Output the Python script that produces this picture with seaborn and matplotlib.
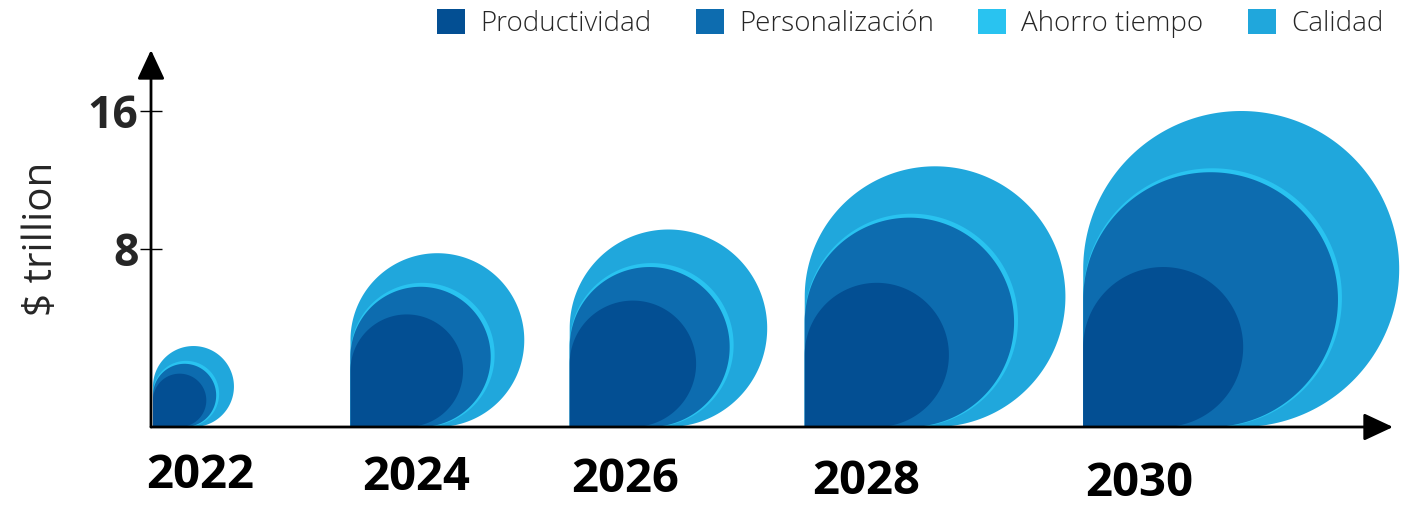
import numpy as np
import matplotlib
matplotlib.use("Agg")
import matplotlib.pyplot as plt
from matplotlib.patches import Polygon, Patch
import seaborn as sns

# values ($ trillion, height of each shape)
years = ["2022", "2024", "2026", "2028", "2030"]
productividad = [2.7, 5.7, 6.4, 7.3, 8.1]
personalizacion = [3.2, 7.1, 8.1, 10.6, 12.9]
ahorro_tiempo = [3.35, 7.3, 8.3, 10.8, 13.1]
calidad = [4.1, 8.8, 10.0, 13.2, 16.0]

series = ["Productividad", "Personalización", "Ahorro tiempo", "Calidad"]
ytick_pos = [9.0, 16.0]
ytick_labels = ["8", "16"]

# layout: left edge of each group and where its year label sits
group_x = [0.1, 10.1, 21.2, 33.1, 47.2]
label_x = [-0.25, 10.7, 21.3, 33.5, 47.3]
label_y = [-2.48, -2.58, -2.68, -2.78, -2.88]

sns.set_theme(style="white")
plt.rcParams["font.family"] = ["Open Sans", "DejaVu Sans"]
colors = sns.color_palette(["#034F93", "#0D6CAF", "#29C3F0", "#20A7DC"])

W, H, DPI = 1413, 505, 100
PX = 19.75  # pixels per unit
fig = plt.figure(figsize=(W / DPI, H / DPI), dpi=DPI)
x0_px, base_px, top_px, right_px = 151, 427, 50, 1393
ax = fig.add_axes([x0_px / W, (H - base_px) / H,
                   (right_px - x0_px) / W, (base_px - top_px) / H])
ax.set_xlim(0, (right_px - x0_px) / PX)
ax.set_ylim(0, (base_px - top_px) / PX)


def drop(x0, top, color, z):
    # circle with a square bottom-left corner, resting on the baseline
    r = top / 2
    cx, cy = x0 + r, r
    t = np.linspace(-np.pi / 2, np.pi, 200)
    xs = np.r_[cx + r * np.cos(t), x0]
    ys = np.r_[cy + r * np.sin(t), 0]
    ax.add_patch(Polygon(np.c_[xs, ys], closed=True, facecolor=color,
                         edgecolor="none", zorder=z, clip_on=False))


for i, x in enumerate(group_x):
    drop(x, calidad[i], colors[3], 2)
    drop(x, ahorro_tiempo[i], colors[2], 3)
    drop(x, personalizacion[i], colors[1], 4)
    drop(x, productividad[i], colors[0], 5)
    ax.text(label_x[i], label_y[i], years[i], ha="left", va="center",
            fontsize=34, fontweight="bold", color="black", clip_on=False)

sns.despine(ax=ax, left=True, bottom=True, top=True, right=True)
ax.set_xticks([])
ax.set_yticks(ytick_pos, ytick_labels)
ax.tick_params(axis="y", direction="inout", length=16, width=1.0,
               pad=1, labelsize=32, left=True, color="black")
for lab in ax.get_yticklabels():
    lab.set_fontweight("bold")

arrow = dict(arrowstyle="-|>,head_length=0.9,head_width=0.42",
             color="black", lw=2, mutation_scale=20, shrinkA=0, shrinkB=0)
ax.annotate("", xy=(0, 1), xytext=(0, 0), xycoords="axes fraction",
            arrowprops=arrow, zorder=6)
ax.annotate("", xy=(1, 0), xytext=(0, 0), xycoords="axes fraction",
            arrowprops=arrow, zorder=6)

ax.set_ylabel("$ trillion", fontsize=29, fontweight="medium")
ax.yaxis.set_label_coords(-0.072, 0.5)

handles = [Patch(facecolor=c, edgecolor="none") for c in colors]
fig.legend(handles, series, loc="upper right", ncol=4,
           bbox_to_anchor=(1400 / W, 1.0 + 8 / H), frameon=False,
           prop={"weight": "light", "size": 20},
           handlelength=1.0, handleheight=1.0, handletextpad=0.55,
           columnspacing=1.6, borderaxespad=0.2)

fig.savefig("out.png", dpi=DPI)
